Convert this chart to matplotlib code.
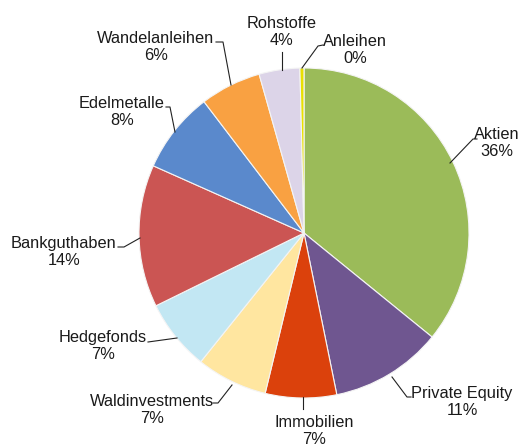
import matplotlib
matplotlib.use("Agg")
import matplotlib.pyplot as plt

# data
categories = ["Aktien", "Private Equity", "Immobilien", "Waldinvestments",
              "Hedgefonds", "Bankguthaben", "Edelmetalle", "Wandelanleihen",
              "Rohstoffe", "Anleihen"]
values = [36.0, 11.0, 7.0, 7.0, 7.0, 14.0, 8.0, 6.0, 4.0, 0.4]
colors = ["#9BBB59", "#6F5690", "#DB410C", "#FFE6A0", "#C2E7F3",
          "#CB5553", "#5A89CC", "#F9A142", "#DCD4E8", "#E8E000"]

# label placement (pixel coords, y from top): block centre and leader polyline
label_pos = [(497, 143), (462, 402), (314, 431), (152, 410), (103, 346),
             (64, 252), (122, 112), (156, 47), (282, 32), (355, 50)]
leaders = [[(450, 163), (473, 139), (477, 139)],
           [(392, 377), (407, 397), (411, 397)],
           [(303, 397), (303, 409)],
           [(232, 385), (218, 403), (213, 403)],
           [(177, 338), (148, 342)],
           [(140, 238), (124, 247), (118, 247)],
           [(175, 132), (170, 107), (166, 107)],
           [(231, 85), (223, 42), (216, 42)],
           [(282, 70), (282, 52)],
           [(302, 68), (318, 46), (323, 45)]]

W, H = 527, 444
fig = plt.figure(figsize=(W / 100, H / 100), dpi=100)
ax = fig.add_axes([0, 0, 1, 1])

cx, cy, r = 304, 233, 165
ax.pie(values, colors=colors, startangle=90, counterclock=False,
       center=(cx, H - cy), radius=r,
       wedgeprops=dict(edgecolor="#f4f4f4", linewidth=0.8))
ax.set_xlim(0, W)
ax.set_ylim(0, H)
ax.set_aspect("auto")
ax.axis("off")

total = sum(values)
for name, v, (tx, ty), pts in zip(categories, values, label_pos, leaders):
    pct = round(v / total * 100)
    ax.text(tx, H - ty, f"{name}\n{pct}%", ha="center", va="center",
            fontsize=11.8, family="Liberation Sans", color="#1a1a1a",
            linespacing=1.2)
    ax.plot([p[0] for p in pts], [H - p[1] for p in pts], color="#222222", lw=0.8)

fig.savefig("out.png", dpi=100, facecolor="white")
